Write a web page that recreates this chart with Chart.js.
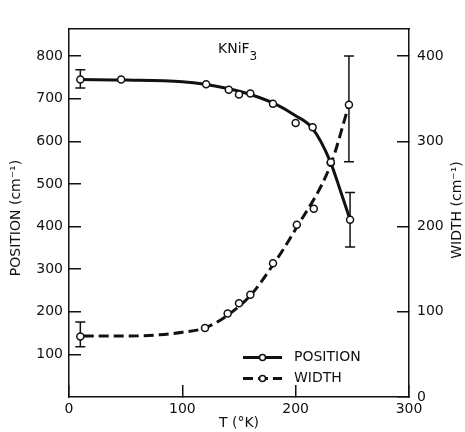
<!DOCTYPE html>
<html>
<head>
<meta charset="utf-8">
<script src="https://cdn.jsdelivr.net/npm/chart.js@4.4.0/dist/chart.umd.min.js"></script>
<style>
  body { margin: 0; background: #fff; }
</style>
</head>
<body>
<canvas id="myChart" width="465" height="432"></canvas>
<script>
// measured points (T in K)
const posT = [10, 46, 121, 141, 150, 160, 180, 200, 215, 231, 248];
const posVal = [745, 745, 734, 721, 710, 712, 688, 643, 633, 551, 416];
const widthT = [10, 120, 140, 150, 160, 180, 201, 216, 231, 247];
const widthVal = [71, 81, 98, 110, 120, 157, 202, 221, 275, 343];

// hand drawn fit curves
const posCurveT = [10, 50, 100, 120, 140, 160, 180, 200, 215, 230, 240, 248];
const posCurveVal = [745, 744, 740, 734, 724, 710, 690, 660, 630, 556, 480, 416];
const widthCurveT = [13, 50, 80, 100, 120, 140, 160, 180, 200, 231, 247];
const widthCurveVal = [71.5, 71.5, 73, 76, 81, 96, 119, 155, 197, 273, 343];

// error bars
const posErrT = [10, 248];
const posErrLo = [725, 352];
const posErrHi = [768, 480];
const widthErrT = [10, 247];
const widthErrLo = [59, 276];
const widthErrHi = [88, 400];

// tick labels
const xTicks = [0, 100, 200, 300];
const leftTicks = [100, 200, 300, 400, 500, 600, 700, 800];
const rightTicks = [0, 100, 200, 300, 400];

const ink = '#111';
const FONT = '"DejaVu Sans", sans-serif';
Chart.defaults.font.family = FONT;
Chart.defaults.font.size = 14;
Chart.defaults.color = ink;

function pts(xs, ys) {
    return xs.map((x, i) => ({x: x, y: ys[i]}));
}

function keepTicks(list) {
    return function(scale) {
        scale.ticks = list.map(v => ({value: v}));
    };
}

const errorBars = [
    {axis: 'yL', t: posErrT, lo: posErrLo, hi: posErrHi},
    {axis: 'yR', t: widthErrT, lo: widthErrLo, hi: widthErrHi}
];

const extras = {
    id: 'extras',
    beforeDatasetsDraw(chart) {
        const ctx = chart.ctx;
        const xs = chart.scales.x;
        ctx.save();
        ctx.strokeStyle = ink;
        ctx.lineWidth = 1.5;
        errorBars.forEach(e => {
            const ys = chart.scales[e.axis];
            e.t.forEach((t, i) => {
                const px = xs.getPixelForValue(t);
                const lo = ys.getPixelForValue(e.lo[i]);
                const hi = ys.getPixelForValue(e.hi[i]);
                ctx.beginPath();
                ctx.moveTo(px, lo); ctx.lineTo(px, hi);
                ctx.moveTo(px - 5, lo); ctx.lineTo(px + 5, lo);
                ctx.moveTo(px - 5, hi); ctx.lineTo(px + 5, hi);
                ctx.stroke();
            });
        });
        ctx.restore();
    },
    afterDraw(chart) {
        const ctx = chart.ctx;
        const a = chart.chartArea;
        ctx.save();
        ctx.fillStyle = ink;

        // compound label
        ctx.font = '14px ' + FONT;
        ctx.textAlign = 'left';
        ctx.textBaseline = 'alphabetic';
        const nx = a.left + 149;
        ctx.fillText('KNiF', nx, a.top + 25);
        const w = ctx.measureText('KNiF').width;
        ctx.font = '12px ' + FONT;
        ctx.fillText('3', nx + w, a.top + 32);

        // y axis titles, both read bottom to top
        ctx.font = '14px ' + FONT;
        ctx.textAlign = 'center';
        ctx.textBaseline = 'middle';
        ctx.save();
        ctx.translate(16, 218);
        ctx.rotate(-Math.PI / 2);
        ctx.fillText('POSITION (cm\u207B\u00B9)', 0, 0);
        ctx.restore();
        ctx.save();
        ctx.translate(457, 210);
        ctx.rotate(-Math.PI / 2);
        ctx.fillText('WIDTH (cm\u207B\u00B9)', 0, 0);
        ctx.restore();

        // legend
        const items = [
            {label: 'POSITION', dash: []},
            {label: 'WIDTH', dash: [10, 5]}
        ];
        items.forEach((it, i) => {
            const y = a.top + 329 + i * 21;
            const x0 = a.left + 174, x1 = a.left + 213;
            ctx.strokeStyle = ink;
            ctx.lineWidth = 3;
            ctx.setLineDash(it.dash);
            ctx.beginPath();
            ctx.moveTo(x0, y); ctx.lineTo(x1, y);
            ctx.stroke();
            ctx.setLineDash([]);
            ctx.beginPath();
            ctx.arc((x0 + x1) / 2, y, 3, 0, Math.PI * 2);
            ctx.fillStyle = '#fff';
            ctx.fill();
            ctx.lineWidth = 1.5;
            ctx.stroke();
            ctx.fillStyle = ink;
            ctx.textAlign = 'left';
            ctx.fillText(it.label, a.left + 225, y);
        });
        ctx.restore();
    }
};

const ctx = document.getElementById('myChart').getContext('2d');
const myChart = new Chart(ctx, {
    type: 'line',
    data: {
        datasets: [
            {
                label: 'POSITION',
                data: pts(posT, posVal),
                yAxisID: 'yL',
                showLine: false,
                pointRadius: 3.5,
                pointBorderWidth: 1.5,
                pointBackgroundColor: '#fff',
                pointBorderColor: ink,
                order: 0
            },
            {
                label: 'WIDTH',
                data: pts(widthT, widthVal),
                yAxisID: 'yR',
                showLine: false,
                pointRadius: 3.5,
                pointBorderWidth: 1.5,
                pointBackgroundColor: '#fff',
                pointBorderColor: ink,
                order: 0
            },
            {
                label: 'POSITION fit',
                data: pts(posCurveT, posCurveVal),
                yAxisID: 'yL',
                borderColor: ink,
                borderWidth: 3,
                pointRadius: 0,
                cubicInterpolationMode: 'monotone',
                fill: false,
                order: 1
            },
            {
                label: 'WIDTH fit',
                data: pts(widthCurveT, widthCurveVal),
                yAxisID: 'yR',
                borderColor: ink,
                borderWidth: 3,
                borderDash: [10, 5],
                pointRadius: 0,
                cubicInterpolationMode: 'monotone',
                fill: false,
                order: 1
            }
        ]
    },
    options: {
        responsive: false,
        animation: false,
        layout: { padding: 0 },
        plugins: {
            legend: { display: false },
            tooltip: { enabled: false }
        },
        scales: {
            x: {
                type: 'linear',
                position: 'bottom',
                min: 0,
                max: 300,
                afterBuildTicks: keepTicks(xTicks),
                afterFit: s => { s.height = 35; },
                ticks: { padding: 16, maxRotation: 0 },
                grid: { drawOnChartArea: false, tickLength: -12, color: ink, lineWidth: 1.5 },
                border: { color: ink, width: 1.5 },
                title: { display: true, text: 'T (\u00B0K)', padding: { top: 0, bottom: 0 } }
            },
            xTop: {
                type: 'linear',
                position: 'top',
                min: 0,
                max: 300,
                afterFit: s => { s.height = 13; },
                ticks: { display: false },
                grid: { drawOnChartArea: false, drawTicks: false },
                border: { color: ink, width: 1.5 }
            },
            yL: {
                type: 'linear',
                position: 'left',
                min: 0,
                max: 865,
                afterBuildTicks: keepTicks(leftTicks),
                afterFit: s => { s.width = 69; },
                ticks: { padding: 18 },
                grid: { drawOnChartArea: false, tickLength: -12, color: ink, lineWidth: 1.5 },
                border: { color: ink, width: 1.5 }
            },
            yR: {
                type: 'linear',
                position: 'right',
                min: 0,
                max: 432.5,
                afterBuildTicks: keepTicks(rightTicks),
                afterFit: s => { s.width = 56; },
                ticks: { padding: 20 },
                grid: { drawOnChartArea: false, tickLength: -12, color: ink, lineWidth: 1.5 },
                border: { color: ink, width: 1.5 }
            }
        }
    },
    plugins: [extras]
});
</script>
</body>
</html>
